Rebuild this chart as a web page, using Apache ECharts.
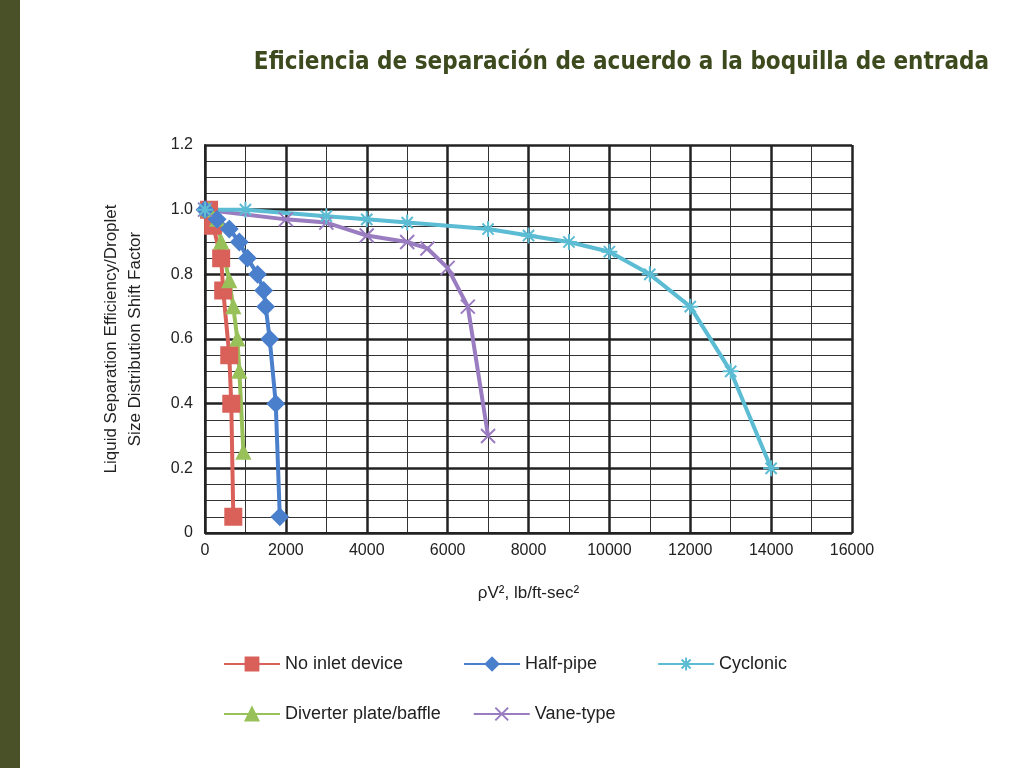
<!DOCTYPE html><html><head><meta charset="utf-8"><script src="https://cdn.jsdelivr.net/npm/echarts@6/dist/echarts.min.js"></script>
<style>body{margin:0}#c{width:1024px;height:768px}</style></head><body><div id="c"></div><script>
const noInlet=[[100,1.0],[200,0.95],[400,0.85],[450,0.75],[600,0.55],[650,0.4],[700,0.05]];
const diverter=[[100,1.0],[300,0.97],[400,0.9],[600,0.78],[700,0.7],[800,0.6],[850,0.5],[950,0.25]];
const halfPipe=[[0,1.0],[300,0.97],[600,0.94],[850,0.9],[1050,0.85],[1300,0.8],[1450,0.75],[1500,0.7],[1600,0.6],[1750,0.4],[1850,0.05]];
const vane=[[0,1.0],[2000,0.97],[3000,0.96],[4000,0.92],[5000,0.9],[5500,0.88],[6000,0.82],[6500,0.7],[7000,0.3]];
const cyclonic=[[0,1.0],[1000,1.0],[3000,0.98],[4000,0.97],[5000,0.96],[7000,0.94],[8000,0.92],[9000,0.9],[10000,0.87],[11000,0.8],[12000,0.7],[13000,0.5],[14000,0.2]];
const star='path://M0,-10L0,10M-10,0L10,0M-7,-7L7,7M-7,7L7,-7';
const xmark='path://M-7,-7L7,7M-7,7L7,-7';
const ch=echarts.init(document.getElementById('c'));
function s(name,data,color,symbol,size){return {name,type:'line',data,symbol,symbolSize:size,lineStyle:{color,width:4},itemStyle:{color,borderColor:color,borderWidth:2},z:5};}
const ft='Liberation Sans';
ch.setOption({backgroundColor:'#fff',animation:false,textStyle:{fontFamily:ft},
graphic:[{type:'rect',left:0,top:0,shape:{width:20,height:768},style:{fill:'#4a5128'}}],
title:{text:'Eficiencia de separación de acuerdo a la boquilla de entrada',right:30,top:46,textStyle:{fontSize:24,fontWeight:'bold',color:'#3d4a1e',fontFamily:'DejaVu Sans Condensed, sans-serif'}},
grid:{left:205,right:172,top:145,bottom:235},
xAxis:{type:'value',min:0,max:16000,interval:2000,name:'ρV², lb/ft-sec²',nameLocation:'middle',nameGap:52,nameTextStyle:{fontSize:17,color:'#222'},
axisLabel:{fontSize:16,color:'#222',margin:10,formatter:v=>String(v)},axisLine:{lineStyle:{color:'#222',width:2}},axisTick:{show:false},
splitLine:{lineStyle:{color:'#222',width:2.5}},minorTick:{show:false,splitNumber:2},minorSplitLine:{show:true,lineStyle:{color:'#333',width:1}}},
yAxis:{type:'value',min:0,max:1.2,interval:0.2,name:'Liquid Separation Efficiency/Droplet\nSize Distribution Shift Factor',nameLocation:'middle',nameGap:58,nameTextStyle:{fontSize:17,color:'#222',lineHeight:24},
axisLabel:{fontSize:16,color:'#222',margin:12,formatter:v=>v===0?'0':v.toFixed(1)},axisLine:{lineStyle:{color:'#222',width:2}},axisTick:{show:false},
splitLine:{lineStyle:{color:'#222',width:2.5}},minorTick:{show:false,splitNumber:4},minorSplitLine:{show:true,lineStyle:{color:'#333',width:1}}},
legend:[{data:['No inlet device','Half-pipe','Cyclonic'],left:218,top:650,itemGap:60,itemWidth:56,itemHeight:16,textStyle:{fontSize:18,color:'#222'}},
{data:['Diverter plate/baffle','Vane-type'],left:218,top:700,itemGap:32,itemWidth:56,itemHeight:16,textStyle:{fontSize:18,color:'#222'}}],
series:[s('No inlet device',noInlet,'#d9615a','rect',16),
s('Diverter plate/baffle',diverter,'#98c15a','triangle',13),
s('Half-pipe',halfPipe,'#4a7fcc','diamond',16),
s('Vane-type',vane,'#9a7cc0',xmark,14),
s('Cyclonic',cyclonic,'#5bbcd3',star,16)]});
</script></body></html>
